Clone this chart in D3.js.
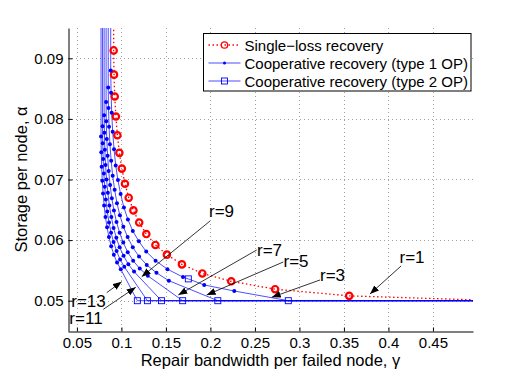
<!DOCTYPE html>
<html>
<head>
<meta charset="utf-8">
<script src="https://cdn.jsdelivr.net/npm/d3@7"></script>
<style>
  body { margin: 0; background: #fff; }
  svg { display: block; font-family: "Liberation Sans", Arial, sans-serif; }
</style>
</head>
<body>
<svg id="chart" width="526" height="372"></svg>
<script>
// Data: [gamma, alpha] pairs

// single-loss recovery (red circles), from top to bottom
const singleLoss = [
  [0.0913, 0.0913], [0.0917, 0.0873], [0.0925, 0.0837], [0.0938, 0.0804], [0.0955, 0.0773],
  [0.0977, 0.0744], [0.1005, 0.0718], [0.1040, 0.0693], [0.1082, 0.0670], [0.1135, 0.0649],
  [0.1200, 0.0629], [0.1280, 0.0610], [0.1382, 0.0592], [0.1511, 0.0576], [0.1680, 0.0560],
  [0.1909, 0.0545], [0.2234, 0.0532], [0.2727, 0.0519], [0.3559, 0.0508], [0.5250, 0.0500]
];

// cooperative recovery, type 1 operating points (dots)
const coopR3Dots = [
  [0.0880, 0.0880], [0.0884, 0.0843], [0.0891, 0.0810], [0.0902, 0.0779], [0.0917, 0.0750],
  [0.0936, 0.0723], [0.0961, 0.0699], [0.0991, 0.0676], [0.1028, 0.0654], [0.1073, 0.0634],
  [0.1128, 0.0615], [0.1196, 0.0598], [0.1279, 0.0581], [0.1384, 0.0566], [0.1517, 0.0552],
  [0.1692, 0.0539], [0.1930, 0.0526], [0.2268, 0.0516]
];
const coopR5Dots = [
  [0.0852, 0.0852], [0.0855, 0.0818], [0.0861, 0.0787], [0.0871, 0.0758], [0.0885, 0.0731],
  [0.0902, 0.0706], [0.0924, 0.0683], [0.0950, 0.0661], [0.0983, 0.0641], [0.1022, 0.0622],
  [0.1070, 0.0605], [0.1128, 0.0588], [0.1198, 0.0573], [0.1285, 0.0559], [0.1394, 0.0546],
  [0.1533, 0.0533]
];
const coopR7Dots = [
  [0.0828, 0.0828], [0.0830, 0.0796], [0.0836, 0.0767], [0.0845, 0.0739], [0.0857, 0.0714],
  [0.0873, 0.0691], [0.0892, 0.0669], [0.0916, 0.0649], [0.0945, 0.0630], [0.0980, 0.0612],
  [0.1021, 0.0596], [0.1071, 0.0580], [0.1132, 0.0566], [0.1206, 0.0553], [0.1297, 0.0541]
];
const coopR9Dots = [
  [0.0806, 0.0806], [0.0809, 0.0777], [0.0814, 0.0749], [0.0822, 0.0724], [0.0833, 0.0700],
  [0.0848, 0.0678], [0.0865, 0.0657], [0.0887, 0.0638], [0.0912, 0.0620], [0.0943, 0.0604],
  [0.0980, 0.0588], [0.1025, 0.0574], [0.1078, 0.0560], [0.1142, 0.0548]
];
const coopR11Dots = [
  [0.0788, 0.0788], [0.0790, 0.0760], [0.0795, 0.0734], [0.0803, 0.0710], [0.0813, 0.0688],
  [0.0825, 0.0667], [0.0841, 0.0647], [0.0861, 0.0629], [0.0884, 0.0612], [0.0912, 0.0597],
  [0.0946, 0.0582], [0.0985, 0.0568], [0.1032, 0.0556]
];
const coopR13Dots = [
  [0.0771, 0.0771], [0.0774, 0.0745], [0.0778, 0.0721], [0.0785, 0.0698], [0.0794, 0.0677],
  [0.0806, 0.0657], [0.0821, 0.0638], [0.0839, 0.0621], [0.0860, 0.0605], [0.0885, 0.0590],
  [0.0915, 0.0576], [0.0951, 0.0563], [0.0993, 0.0552]
];

// cooperative recovery, type 2 operating points (squares)
const coopR3Squares = [[0.1752, 0.0536], [0.2875, 0.0500]];
const coopR5Squares = [[0.2083, 0.0500]];
const coopR7Squares = [[0.1688, 0.0500]];
const coopR9Squares = [[0.1450, 0.0500]];
const coopR11Squares = [[0.1292, 0.0500]];
const coopR13Squares = [[0.1179, 0.0500]];

const rValues = [3, 5, 7, 9, 11, 13];
const coopDots = [coopR3Dots, coopR5Dots, coopR7Dots, coopR9Dots, coopR11Dots, coopR13Dots];
const coopSquares = [coopR3Squares, coopR5Squares, coopR7Squares, coopR9Squares, coopR11Squares, coopR13Squares];

// curves run straight up past the top and flat past the right edge
const curveTopAlpha = 0.1;
const curveRightGamma = 0.55;

// axes
const xDomain = [0.04, 0.495];
const yDomain = [0.045, 0.095];
const xTicks = [0.05, 0.1, 0.15, 0.2, 0.25, 0.3, 0.35, 0.4, 0.45];
const yTicks = [0.05, 0.06, 0.07, 0.08, 0.09];

// annotations: label, text centre, arrow tail, arrow head (data units)
const annoLabels = ['r=1', 'r=3', 'r=5', 'r=7', 'r=9', 'r=11', 'r=13'];
const annoTextPos = [[0.4265, 0.05705], [0.3372, 0.05424], [0.2962, 0.05655], [0.2664, 0.05828],
  [0.2125, 0.0648], [0.0602, 0.04706], [0.0630, 0.04987]];
const annoTail = [[0.4142, 0.05573], [0.3231, 0.05342], [0.2819, 0.05639], [0.2520, 0.05837],
  [0.1996, 0.06315], [0.0797, 0.04858], [0.0835, 0.05132]];
const annoHead = [[0.3793, 0.05111], [0.2689, 0.05056], [0.1958, 0.05094], [0.1639, 0.05094],
  [0.1228, 0.05396], [0.1161, 0.05221], [0.1003, 0.05314]];

const legendLabels = ['Single\u2212loss recovery', 'Cooperative recovery (type 1 OP)', 'Cooperative recovery (type 2 OP)'];

const RED = '#ff0000';
const BLUE = '#0000ff';

// Layout
const plotLeft = 68, plotRight = 473, plotTop = 28, plotBottom = 331;

const svg = d3.select('#chart');
const x = d3.scaleLinear().domain(xDomain).range([plotLeft, plotRight]);
const y = d3.scaleLinear().domain(yDomain).range([plotBottom, plotTop]);

const defs = svg.append('defs');
defs.append('clipPath').attr('id', 'plot-clip')
  .append('rect')
  .attr('x', plotLeft).attr('y', plotTop)
  .attr('width', plotRight - plotLeft).attr('height', plotBottom - plotTop);

defs.append('marker')
  .attr('id', 'arrow')
  .attr('markerUnits', 'userSpaceOnUse')
  .attr('markerWidth', 9).attr('markerHeight', 7)
  .attr('refX', 9).attr('refY', 3.5)
  .attr('orient', 'auto')
  .append('path')
  .attr('d', 'M0,0 L9,3.5 L0,7 Z')
  .attr('fill', '#000');

// Grid
const grid = svg.append('g').attr('stroke', '#a0a0a0').attr('stroke-width', 1).attr('stroke-dasharray', '1,3');
grid.selectAll('line.gx').data(xTicks).enter().append('line')
  .attr('x1', d => Math.round(x(d)) + 0.5).attr('x2', d => Math.round(x(d)) + 0.5)
  .attr('y1', plotTop).attr('y2', plotBottom);
grid.selectAll('line.gy').data(yTicks).enter().append('line')
  .attr('y1', d => Math.round(y(d)) + 0.5).attr('y2', d => Math.round(y(d)) + 0.5)
  .attr('x1', plotLeft).attr('x2', plotRight);

// Axes
const xAxis = d3.axisBottom(x).tickValues(xTicks).tickFormat(d3.format('')).tickSizeInner(-4).tickSizeOuter(0).tickPadding(6);
const yAxis = d3.axisLeft(y).tickValues(yTicks).tickFormat(d3.format('')).tickSizeInner(-4).tickSizeOuter(0).tickPadding(5);

const gx = svg.append('g').attr('transform', `translate(0,${plotBottom + 0.5})`).call(xAxis);
const gy = svg.append('g').attr('transform', `translate(${plotLeft + 0.5},0)`).call(yAxis);
[gx, gy].forEach(g => {
  g.selectAll('text').attr('font-size', 15).attr('font-family', '"Liberation Sans", Arial, sans-serif').attr('fill', '#000');
  g.selectAll('line, path').attr('stroke', '#000');
});

svg.append('text')
  .attr('x', (plotLeft + plotRight) / 2).attr('y', 365.5)
  .attr('text-anchor', 'middle').attr('font-size', 16.5)
  .text('Repair bandwidth per failed node, \u03b3');

svg.append('text')
  .attr('transform', `translate(27,${(plotTop + plotBottom) / 2}) rotate(-90)`)
  .attr('text-anchor', 'middle').attr('font-size', 16.5)
  .text('Storage per node, \u03b1');

// Curves
const plot = svg.append('g').attr('clip-path', 'url(#plot-clip)');
const line = d3.line().x(d => x(d[0])).y(d => y(d[1]));

// single-loss: dotted red line with circles
const singlePath = [[singleLoss[0][0], curveTopAlpha]].concat(singleLoss);
plot.append('path')
  .attr('d', line(singlePath))
  .attr('fill', 'none').attr('stroke', RED).attr('stroke-width', 1.3)
  .attr('stroke-dasharray', '1.5,2.5');

// cooperative curves
rValues.forEach((r, k) => {
  const pts = coopDots[k].concat(coopSquares[k]).sort((a, b) => a[0] - b[0] || b[1] - a[1]);
  const path = [[pts[0][0], curveTopAlpha]].concat(pts).concat([[curveRightGamma, yDomain[0] + 0.005]]);
  plot.append('path')
    .attr('d', line(path))
    .attr('fill', 'none').attr('stroke', BLUE).attr('stroke-width', 0.7);
});

plot.selectAll('circle.single').data(singleLoss).enter().append('circle')
  .attr('cx', d => x(d[0])).attr('cy', d => y(d[1])).attr('r', 3.2)
  .attr('fill', 'none').attr('stroke', RED).attr('stroke-width', 2.2);

rValues.forEach((r, k) => {
  plot.selectAll(null).data(coopDots[k]).enter().append('circle')
    .attr('cx', d => x(d[0])).attr('cy', d => y(d[1])).attr('r', 2)
    .attr('fill', BLUE);
  plot.selectAll(null).data(coopSquares[k]).enter().append('rect')
    .attr('x', d => x(d[0]) - 3).attr('y', d => y(d[1]) - 3)
    .attr('width', 6).attr('height', 6)
    .attr('fill', 'none').attr('stroke', BLUE).attr('stroke-width', 0.9);
});

// Annotations
const anno = svg.append('g');
annoLabels.forEach((label, i) => {
  anno.append('line')
    .attr('x1', x(annoTail[i][0])).attr('y1', y(annoTail[i][1]))
    .attr('x2', x(annoHead[i][0])).attr('y2', y(annoHead[i][1]))
    .attr('stroke', '#000').attr('stroke-width', 0.8)
    .attr('marker-end', 'url(#arrow)');
  anno.append('text')
    .attr('x', x(annoTextPos[i][0])).attr('y', y(annoTextPos[i][1]))
    .attr('text-anchor', 'middle').attr('dominant-baseline', 'central')
    .attr('font-size', 17)
    .text(label);
});

// Legend
const legend = svg.append('g').attr('transform', 'translate(203.5,33.5)');
legend.append('rect')
  .attr('width', 267.5).attr('height', 57.5)
  .attr('fill', '#fff').attr('stroke', '#000').attr('stroke-width', 1);

const legendRowY = [11.5, 29.5, 47.5];
legendLabels.forEach((label, i) => {
  const row = legend.append('g').attr('transform', `translate(0,${legendRowY[i]})`);
  row.append('line')
    .attr('x1', 5).attr('x2', 37).attr('y1', 0).attr('y2', 0)
    .attr('stroke', i === 0 ? RED : BLUE)
    .attr('stroke-width', i === 0 ? 1.3 : 0.7)
    .attr('stroke-dasharray', i === 0 ? '1.5,2.5' : null);
  if (i === 0) {
    row.append('circle').attr('cx', 21).attr('cy', 0).attr('r', 3.2)
      .attr('fill', 'none').attr('stroke', RED).attr('stroke-width', 1.3);
  } else if (i === 1) {
    row.append('circle').attr('cx', 21).attr('cy', 0).attr('r', 1.5).attr('fill', BLUE);
  } else {
    row.append('rect').attr('x', 18).attr('y', -3).attr('width', 6).attr('height', 6)
      .attr('fill', 'none').attr('stroke', BLUE).attr('stroke-width', 0.9);
  }
  row.append('text')
    .attr('x', 41).attr('y', 0)
    .attr('dominant-baseline', 'central')
    .attr('font-size', 15)
    .text(label);
});
</script>
</body>
</html>
